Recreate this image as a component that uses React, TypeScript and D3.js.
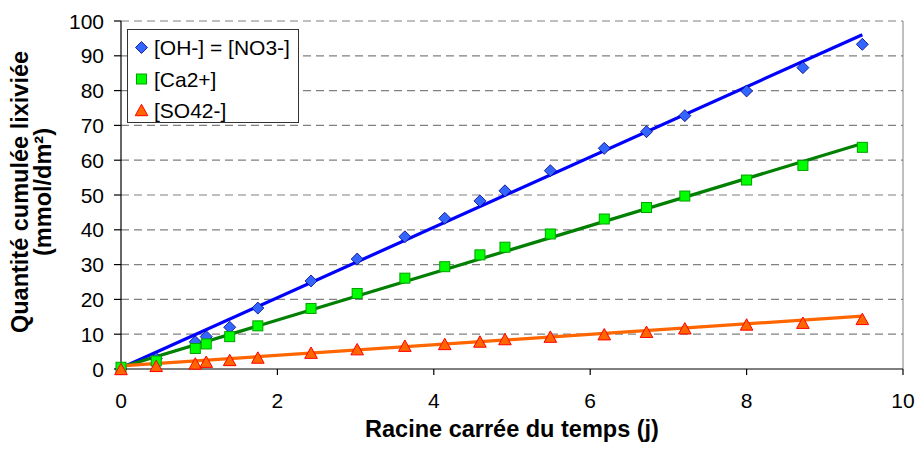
import React from "react";
import * as d3 from "d3";

// Square root of time (days^0.5)
const sqrtTime = [0, 0.45, 0.95, 1.09, 1.39, 1.75, 2.43, 3.02, 3.63, 4.14, 4.59, 4.91, 5.49, 6.18, 6.72, 7.21, 8.0, 8.72, 9.48];
// Cumulative leached quantity (mmol/dm²)
const ohNo3 = [0, 3.0, 7.8, 9.3, 12.0, 17.5, 25.3, 31.6, 38.0, 43.3, 48.3, 51.2, 57.0, 63.4, 68.2, 72.8, 79.9, 86.6, 93.3];
const ca2 = [0.5, 2.3, 5.9, 7.2, 9.3, 12.4, 17.4, 21.7, 26.1, 29.4, 32.8, 35.0, 38.8, 43.1, 46.4, 49.7, 54.3, 58.5, 63.7];
const so42 = [0, 0.9, 1.6, 2.1, 2.6, 3.3, 4.7, 5.7, 6.7, 7.2, 7.9, 8.6, 9.3, 10.0, 10.7, 11.7, 12.8, 13.3, 14.4];

// Linear trendlines [slope, intercept]
const trendOh = [10.1, 0.3];
const trendCa = [6.78, 0.5];
const trendSo = [1.51, 0.9];

const seriesNames = ["[OH-] = [NO3-]", "[Ca2+]", "[SO42-]"];
const xTicks = [0, 2, 4, 6, 8, 10];
const yTicks = [0, 10, 20, 30, 40, 50, 60, 70, 80, 90, 100];
const xTitle = "Racine carrée du temps (j)";
const yTitle1 = "Quantité cumulée lixiviée";
const yTitle2 = "(mmol/dm²)";

const W = 918, H = 452;
const M = { left: 121, right: 903, top: 21, bottom: 369 };
const FONT = "Arial, 'Liberation Sans', sans-serif";

const x = d3.scaleLinear().domain([0, 10]).range([M.left, M.right]);
const y = d3.scaleLinear().domain([0, 100]).range([M.bottom, M.top]);

function Marker({ kind, cx, cy }: { kind: string; cx: number; cy: number }) {
  if (kind === "diamond") {
    const r = 6;
    return <path d={`M${cx},${cy - r}L${cx + r},${cy}L${cx},${cy + r}L${cx - r},${cy}Z`} fill="#3366FF" stroke="#000080" strokeWidth={0.8} />;
  }
  if (kind === "square") {
    const s = 5;
    return <rect x={cx - s} y={cy - s} width={2 * s} height={2 * s} fill="#00FF00" stroke="#00A000" strokeWidth={1} />;
  }
  const hw = 6.3, hh = 5.7;
  return <path d={`M${cx},${cy - hh}L${cx + hw},${cy + hh}L${cx - hw},${cy + hh}Z`} fill="#FF6600" stroke="#FF0000" strokeWidth={1} />;
}

const series = [
  { name: seriesNames[0], values: ohNo3, trend: trendOh, kind: "diamond", line: "#0000FF" },
  { name: seriesNames[1], values: ca2, trend: trendCa, kind: "square", line: "#008000" },
  { name: seriesNames[2], values: so42, trend: trendSo, kind: "triangle", line: "#FF6600" },
];

export default function App() {
  const x0 = sqrtTime[0];
  const x1 = sqrtTime[sqrtTime.length - 1];
  return (
    <svg width={W} height={H} style={{ position: "absolute", left: 0, top: 0, background: "#fff" }} fontFamily={FONT}>
      <rect x={0} y={0} width={W} height={H} fill="#fff" />
      {/* gridlines */}
      {yTicks.filter((t) => t > 0).map((t) => (
        <line key={t} x1={M.left} x2={M.right} y1={y(t)} y2={y(t)} stroke="#808080" strokeWidth={1.2} strokeDasharray="8,5" />
      ))}
      {/* right border */}
      <line x1={M.right} x2={M.right} y1={M.top} y2={M.bottom} stroke="#808080" strokeWidth={1} />
      {/* axes */}
      <line x1={M.left} x2={M.left} y1={M.top} y2={M.bottom} stroke="#000" strokeWidth={1.2} />
      <line x1={M.left} x2={M.right} y1={M.bottom} y2={M.bottom} stroke="#000" strokeWidth={1.2} />
      {yTicks.map((t) => (
        <g key={t}>
          <line x1={M.left - 7} x2={M.left} y1={y(t)} y2={y(t)} stroke="#000" strokeWidth={1.2} />
          <text x={104} y={y(t)} dy="0.36em" textAnchor="end" fontSize={21} fill="#000">{t}</text>
        </g>
      ))}
      {xTicks.map((t) => (
        <g key={t}>
          <line x1={x(t)} x2={x(t)} y1={M.bottom} y2={M.bottom + 6} stroke="#000" strokeWidth={1.2} />
          <text x={x(t)} y={408} textAnchor="middle" fontSize={21} fill="#000">{t}</text>
        </g>
      ))}
      {/* titles */}
      <text x={(M.left + M.right) / 2} y={437} textAnchor="middle" fontSize={23.5} fontWeight="bold" fill="#000">{xTitle}</text>
      <g transform={`translate(0, ${(M.top + M.bottom) / 2 - 3}) rotate(-90)`}>
        <text x={0} y={28} textAnchor="middle" fontSize={23.5} fontWeight="bold" fill="#000">{yTitle1}</text>
        <text x={0} y={51} textAnchor="middle" fontSize={23.5} fontWeight="bold" fill="#000">{yTitle2}</text>
      </g>
      {/* trendlines */}
      {series.map((s) => (
        <line key={s.name + "t"} x1={x(x0)} y1={y(s.trend[0] * x0 + s.trend[1])} x2={x(x1)} y2={y(s.trend[0] * x1 + s.trend[1])} stroke={s.line} strokeWidth={3.2} />
      ))}
      {/* markers */}
      {series.map((s) => (
        <g key={s.name}>
          {s.values.map((v, i) => (
            <Marker key={i} kind={s.kind} cx={x(sqrtTime[i])} cy={y(v)} />
          ))}
        </g>
      ))}
      {/* legend */}
      <rect x={127.5} y={29.5} width={171} height={93} fill="#fff" stroke="#333" strokeWidth={1} />
      {series.map((s, i) => {
        const cy = [47.5, 79, 110][i];
        return (
          <g key={s.name + "l"}>
            <Marker kind={s.kind} cx={141.5} cy={cy} />
            <text x={154} y={cy} dy="0.36em" fontSize={21} fill="#000">{s.name}</text>
          </g>
        );
      })}
    </svg>
  );
}
